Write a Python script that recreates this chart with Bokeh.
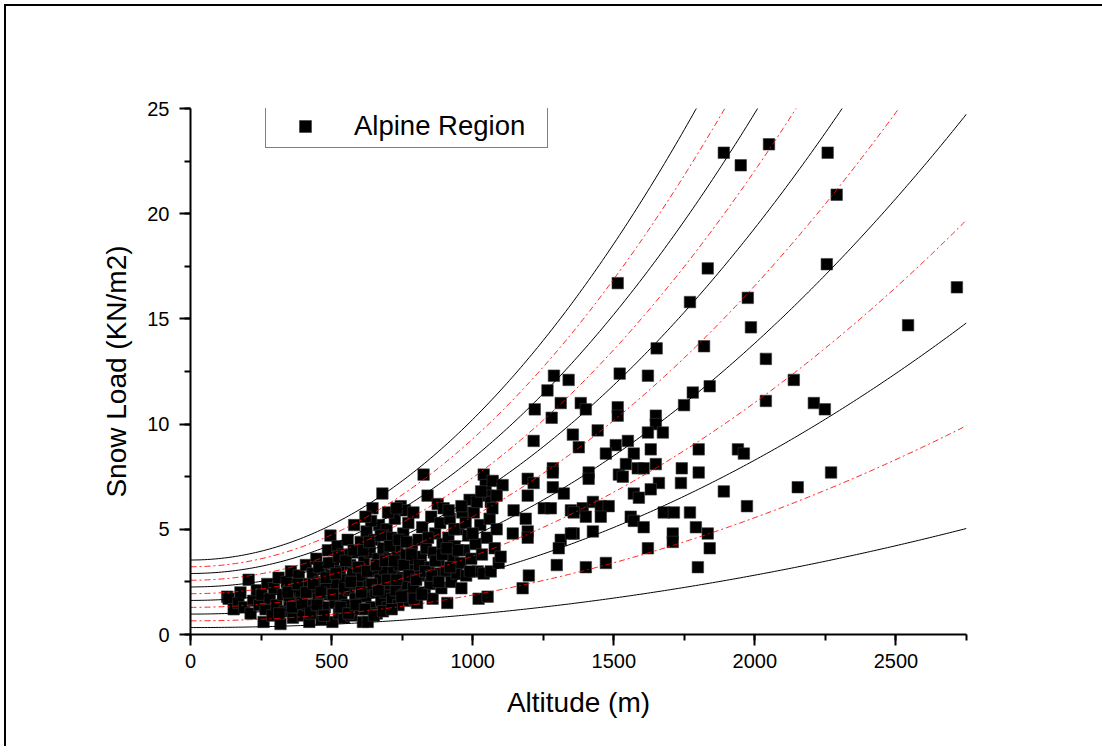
import numpy as np
from bokeh.plotting import figure
from bokeh.models import Range1d, SingleIntervalTicker, Legend, LegendItem
from bokeh.embed import file_html
from bokeh.resources import INLINE

# ---- data ----
altitude = [
    # sparse upper / right points
    1890, 1950, 2050, 2258, 2290,
    1833, 2255, 1770, 1975, 1986, 2543, 2716, 1820,
    1514, 1652, 2039, 1340, 1521, 1621, 1840, 1780, 1749,
    1312, 1383, 1401, 1514, 1514, 2039, 1649, 1649, 1621, 1674,
    1443, 1355, 1550, 1507, 1376, 1631, 1801, 1940,
    2138, 2209, 2248, 2270, 2152,
    1288, 1265, 1220, 1280, 1216, 1284,
    1472, 1571, 1961, 1411, 1411, 1518, 1532, 1543, 1585, 1606, 1649, 1741, 1801,
    1660, 1631, 1738, 1571, 1589, 1890, 1972,
    1348, 1390, 1426, 1454, 1482, 1401, 1454, 1560, 1571, 1606, 1677, 1713, 1770,
    1709, 1709, 1791, 1833, 1840, 1621, 1358, 1426, 1401, 1472, 1798,
    # middle region
    1195, 1216, 1195, 1284, 1323, 1284, 1145, 1252, 1277, 1358, 1188, 1195, 1195,
    1142, 1312, 1305, 1348, 1298, 1199, 1177,
    # dense cluster
    130, 135, 153, 170, 177, 190, 206,
    213, 222, 235, 244, 252, 259, 266, 272, 281, 290, 296,
    305, 312, 319, 327, 334, 341, 350, 356, 363, 370, 377, 384, 391, 398,
    404, 409, 415, 421, 427, 433, 440, 446, 452, 458, 464, 470, 476, 482, 487, 493, 496, 499,
    503, 507, 512, 516, 521, 526, 530, 535, 539, 544, 548, 553, 557, 562, 566, 571, 575, 580, 584, 589, 593, 598,
    603, 607, 611, 615, 620, 624, 628, 632, 636, 640, 645, 648, 652, 656, 660, 664, 668, 672, 676, 680, 683, 687, 691, 695, 699,
    703, 707, 711, 715, 720, 724, 728, 733, 737, 741, 745, 750, 754, 758, 763, 767, 772, 776, 781, 785, 790, 795,
    803, 808, 812, 817, 821, 826, 830, 835, 840, 844, 849, 853, 858, 862, 867, 871, 876, 880, 885, 889, 893, 897,
    905, 910, 914, 919, 924, 930, 936, 943, 950, 957, 963, 970, 977, 984, 989, 995,
    1004, 1010, 1018, 1021, 1027, 1033, 1039, 1039, 1046, 1050, 1053, 1053, 1060, 1064, 1064, 1071, 1078, 1085, 1092, 1099, 1106,
    # more of the dense cluster
    315, 345, 360, 380, 395, 410, 425, 435, 448, 455, 462, 473, 480, 490, 505, 515, 525, 532,
    545, 550, 560, 568, 578, 586, 595, 605, 612, 618, 626, 634, 642, 650, 658, 666, 674, 682,
    690, 698, 706, 713, 722, 730, 738, 748, 756, 765, 774, 783, 792, 800, 810, 820, 832, 842,
    855, 868, 880, 892, 908, 920, 935, 948, 960, 975, 990, 1000, 1015, 1030, 640, 700, 760,
    620, 730, 790, 915, 960, 1070, 1085,
]
snow_load = [
    22.9, 22.3, 23.3, 22.9, 20.9,
    17.4, 17.6, 15.8, 16.0, 14.6, 14.7, 16.5, 13.7,
    16.7, 13.6, 13.1, 12.1, 12.4, 12.3, 11.8, 11.5, 10.9,
    11.0, 11.0, 10.7, 10.8, 10.4, 11.1, 10.4, 10.0, 9.6, 9.6,
    9.7, 9.5, 9.2, 9.0, 8.9, 8.8, 8.8, 8.8,
    12.1, 11.0, 10.7, 7.7, 7.0,
    12.3, 11.6, 10.7, 10.3, 9.2, 7.9,
    8.6, 8.6, 8.6, 7.7, 7.4, 7.6, 7.5, 8.1, 7.9, 7.9, 8.1, 7.9, 7.7,
    7.2, 6.9, 7.2, 6.7, 6.5, 6.8, 6.1,
    5.9, 6.0, 6.3, 6.1, 6.1, 5.6, 5.6, 5.6, 5.4, 5.1, 5.8, 5.8, 5.8,
    4.8, 4.4, 5.1, 4.8, 4.1, 4.1, 4.8, 4.9, 3.2, 3.4, 3.2,
    7.4, 7.2, 6.6, 7.0, 6.7, 7.7, 5.9, 6.0, 6.0, 5.8, 5.5, 4.9, 4.6,
    4.8, 4.5, 4.1, 4.8, 3.3, 2.8, 2.2,
    1.8, 1.7, 1.2, 1.5, 2.0, 1.3, 2.6,
    1.0, 1.6, 2.1, 1.4, 1.9, 0.6, 1.2, 2.4, 1.7, 0.9, 2.2,
    1.4, 2.7, 0.5, 1.9, 1.1, 2.5, 1.6, 3.0, 0.8, 2.1, 1.3, 2.8, 1.8, 0.9,
    2.4, 3.3, 1.4, 0.6, 2.0, 2.9, 1.1, 3.6, 1.7, 2.5, 0.7, 3.1, 1.3, 2.2, 4.0, 1.9, 4.7, 2.8,
    0.6, 3.4, 1.5, 2.4, 4.2, 1.0, 3.0, 1.9, 3.8, 0.8, 2.6, 1.4, 4.5, 2.1, 3.3, 0.9, 2.9, 5.2, 1.7, 3.9, 2.4, 1.2,
    4.4, 2.8, 0.6, 3.5, 1.8, 4.9, 0.6, 2.3, 3.9, 1.3, 6.0, 3.0, 4.5, 2.0, 1.0, 3.6, 5.2, 2.6, 1.6, 6.7, 4.1, 3.1, 2.0, 5.0, 1.3,
    3.6, 2.4, 4.6, 1.7, 3.0, 5.5, 2.1, 4.0, 1.4, 3.3, 6.1, 2.7, 4.8, 1.9, 3.8, 2.4, 5.3, 1.6, 3.1, 4.3, 2.2, 3.6,
    1.5, 4.5, 2.8, 3.7, 5.1, 7.6, 2.0, 4.1, 6.6, 3.2, 2.4, 5.6, 1.7, 3.9, 4.8, 2.9, 6.2, 3.5, 5.3, 2.2, 4.3, 6.0,
    3.0, 1.5, 4.6, 5.5, 2.5, 3.7, 4.2, 2.9, 5.0, 3.4, 5.8, 4.0, 2.8, 4.7, 6.4, 3.6,
    5.8, 4.3, 3.0, 1.7, 5.2, 3.8, 2.9, 7.6, 7.1, 4.6, 6.6, 1.8, 5.5, 6.3, 3.0, 7.3, 4.1, 5.0, 3.4, 3.7, 7.1,
    1.0, 2.0, 1.3, 2.4, 1.5, 2.0, 1.0, 2.4, 1.4, 3.2, 2.0, 0.9, 2.7, 3.4, 1.9, 2.9, 3.7, 1.3,
    2.2, 3.5, 1.0, 2.5, 4.0, 1.4, 3.2, 2.0, 4.0, 1.2, 3.0, 4.4, 2.4, 0.9, 3.3, 2.1, 4.7, 1.1,
    3.5, 2.6, 4.2, 1.2, 3.5, 2.6, 4.5, 1.8, 3.3, 4.4, 2.8, 3.8, 1.7, 2.6, 3.3, 1.9, 3.0, 4.6,
    2.8, 3.5, 2.5, 3.8, 4.1, 3.2, 5.0, 4.0, 2.2, 5.3, 3.0, 4.8, 6.3, 6.8, 5.4, 5.8, 5.9,
    5.6, 6.0, 5.8, 5.9, 6.1, 6.0, 6.6,
]

# reference curves: load at altitude 0, alternating solid / dash-dot
curve_base = [0.33, 0.65, 0.97, 1.29, 1.62, 1.94, 2.26, 2.58, 2.90, 3.22, 3.54]
curve_kind = ["solid", "dash", "solid", "dash", "solid", "dash",
              "solid", "dash", "solid", "dash", "solid"]
x_ticks_interval = 500
y_ticks_interval = 5

p = figure(frame_width=776, frame_height=526,
           min_border_left=184, min_border_right=136,
           min_border_top=102, min_border_bottom=112,
           x_range=Range1d(0, 2750), y_range=Range1d(0, 25),
           output_backend="svg", toolbar_location=None,
           background_fill_color="white", border_fill_color="white")
p.outline_line_color = None
p.grid.visible = False
p.styles = {"border-top": "2px solid black", "border-left": "2px solid black",
            "margin-top": "4px", "margin-left": "4px"}

r = p.scatter(altitude, snow_load, marker="square", size=11.5,
              fill_color="black", line_color="#3a3a3a", line_width=0.6)

grid_alt = np.linspace(0, 2750, 276)
for base, kind in zip(curve_base, curve_kind):
    yy = base * (1 + (grid_alt / 728.0) ** 2)
    if kind == "solid":
        p.line(grid_alt, yy, line_color="black", line_width=1)
    else:
        p.line(grid_alt, yy, line_color="#ff0000", line_width=1,
               line_dash="6 3 2 3", line_alpha=0.85)

for ax, interval in ((p.xaxis, x_ticks_interval), (p.yaxis, y_ticks_interval)):
    ax.ticker = SingleIntervalTicker(interval=interval, num_minor_ticks=2)
    ax.axis_line_width = 2
    ax.major_tick_line_width = 2
    ax.minor_tick_line_width = 2
    ax.major_tick_in = 0
    ax.major_tick_out = 11
    ax.minor_tick_in = 0
    ax.minor_tick_out = 6
    ax.major_label_text_font = "Liberation Sans"
    ax.major_label_text_font_size = "20px"
    ax.major_label_text_color = "black"
    ax.axis_label_text_font = "Liberation Sans"
    ax.axis_label_text_font_size = "28px"
    ax.axis_label_text_font_style = "normal"
    ax.axis_label_text_color = "black"

p.xaxis.major_label_standoff = 8
p.yaxis.major_label_standoff = 10
p.xaxis.axis_label = "Altitude (m)"
p.yaxis.axis_label = "Snow Load (KN/m2)"
p.xaxis.axis_label_standoff = 16
p.yaxis.axis_label_standoff = 12

legend = Legend(items=[LegendItem(label="Alpine Region", renderers=[r])],
                location=(75, 486), padding=5, spacing=0, margin=0,
                glyph_width=68, glyph_height=30, label_standoff=15,
                label_width=188, label_text_font="Liberation Sans",
                label_text_font_size="27.5px", label_text_color="black",
                border_line_color="black", border_line_width=1,
                background_fill_color="white")
p.add_layout(legend)

open("out.html", "w").write(file_html(p, INLINE))
